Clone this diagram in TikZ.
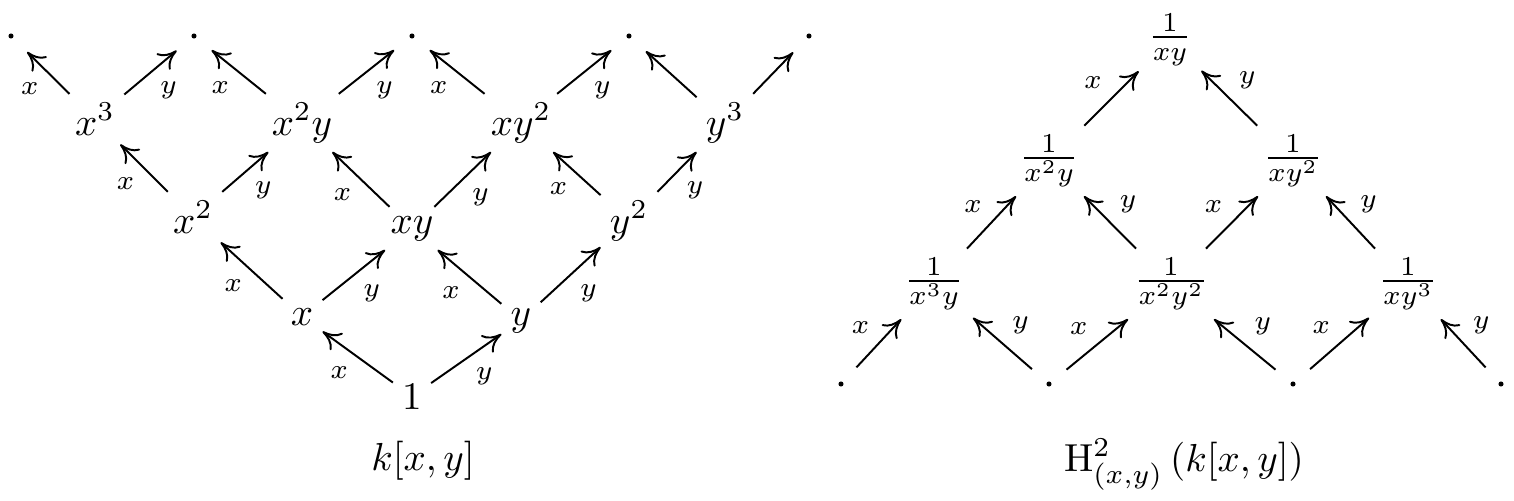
\documentclass[tikz,border=0pt]{standalone}
\usetikzlibrary{arrows.meta}
\begin{document}
\begin{tikzpicture}[x=0.256pt,y=-0.256pt,
  ent/.style={inner sep=2.2pt, anchor=base},
  dotnd/.style={circle, minimum size=11.2pt, inner sep=0pt,
    path picture={\fill (path picture bounding box.center) circle (0.65pt);}},
  arr/.style={-{To[length=4.6pt,width=5.4pt]}, line width=0.5pt},
  lab/.style={font=\fontsize{7.5}{9}\selectfont, inner sep=2.2pt}]
\useasboundingbox (0,0) rectangle (1514,500);
% ---------- left diagram ----------
\node[dotnd] (d1) at (11,36) {};
\node[dotnd] (d2) at (194,36) {};
\node[dotnd] (d3) at (412,36) {};
\node[dotnd] (d4) at (629,36) {};
\node[dotnd] (d5) at (809,36) {};
\node[ent] (a30) at (95,135) {$x^3$};
\node[ent] (a21) at (302,135) {$x^2y$};
\node[ent] (a12) at (521,135) {$xy^2$};
\node[ent] (a03) at (725,135) {$y^3$};
\node[ent] (a20) at (193,233) {$x^2$};
\node[ent] (a11) at (412,233) {$xy$};
\node[ent] (a02) at (629,233) {$y^2$};
\node[ent] (a10) at (302,325) {$x$};
\node[ent] (a01) at (521,325) {$y$};
\node[ent] (a00) at (412,409) {$1$};
\node[anchor=base] (capL) at (423,470) {$k[x,y]$};
\draw[arr] (a00) -- node[lab,below left]{$x$} (a10);
\draw[arr] (a00) -- node[lab,below right]{$y$} (a01);
\draw[arr] (a10) -- node[lab,below left]{$x$} (a20);
\draw[arr] (a10) -- node[lab,below right]{$y$} (a11);
\draw[arr] (a01) -- node[lab,below left]{$x$} (a11);
\draw[arr] (a01) -- node[lab,below right]{$y$} (a02);
\draw[arr] (a20) -- node[lab,below left]{$x$} (a30);
\draw[arr] (a20) -- node[lab,below right]{$y$} (a21);
\draw[arr] (a11) -- node[lab,below left]{$x$} (a21);
\draw[arr] (a11) -- node[lab,below right]{$y$} (a12);
\draw[arr] (a02) -- node[lab,below left]{$x$} (a12);
\draw[arr] (a02) -- node[lab,below right]{$y$} (a03);
\draw[arr] (a30) -- node[lab,below left]{$x$} (d1);
\draw[arr] (a30) -- node[lab,below right]{$y$} (d2);
\draw[arr] (a21) -- node[lab,below left]{$x$} (d2);
\draw[arr] (a21) -- node[lab,below right]{$y$} (d3);
\draw[arr] (a12) -- node[lab,below left]{$x$} (d3);
\draw[arr] (a12) -- node[lab,below right]{$y$} (d4);
\draw[arr] (a03) -- (d4);
\draw[arr] (a03) -- (d5);
% ---------- right diagram ----------
\node[ent] (b11) at (1170,47) {$\frac{1}{xy}$};
\node[ent] (b21) at (1049,168) {$\frac{1}{x^2y}$};
\node[ent] (b12) at (1293,168) {$\frac{1}{xy^2}$};
\node[ent] (b31) at (934,291) {$\frac{1}{x^3y}$};
\node[ent] (b22) at (1171,291) {$\frac{1}{x^2y^2}$};
\node[ent] (b13) at (1408,291) {$\frac{1}{xy^3}$};
\node[dotnd] (e1) at (841,384) {};
\node[dotnd] (e2) at (1049,384) {};
\node[dotnd] (e3) at (1293,384) {};
\node[dotnd] (e4) at (1501,384) {};
\node[anchor=base] (capR) at (1184,471) {$\mathrm{H}^2_{(x,y)}\left(k[x,y]\right)$};
\draw[arr] (e1) -- node[lab,above left]{$x$} (b31);
\draw[arr] (e2) -- node[lab,above right]{$y$} (b31);
\draw[arr] (e2) -- node[lab,above left]{$x$} (b22);
\draw[arr] (e3) -- node[lab,above right]{$y$} (b22);
\draw[arr] (e3) -- node[lab,above left]{$x$} (b13);
\draw[arr] (e4) -- node[lab,above right]{$y$} (b13);
\draw[arr] (b31) -- node[lab,above left]{$x$} (b21);
\draw[arr] (b22) -- node[lab,above right]{$y$} (b21);
\draw[arr] (b22) -- node[lab,above left]{$x$} (b12);
\draw[arr] (b13) -- node[lab,above right]{$y$} (b12);
\draw[arr] (b21) -- node[lab,above left]{$x$} (b11);
\draw[arr] (b12) -- node[lab,above right]{$y$} (b11);
\end{tikzpicture}
\end{document}
